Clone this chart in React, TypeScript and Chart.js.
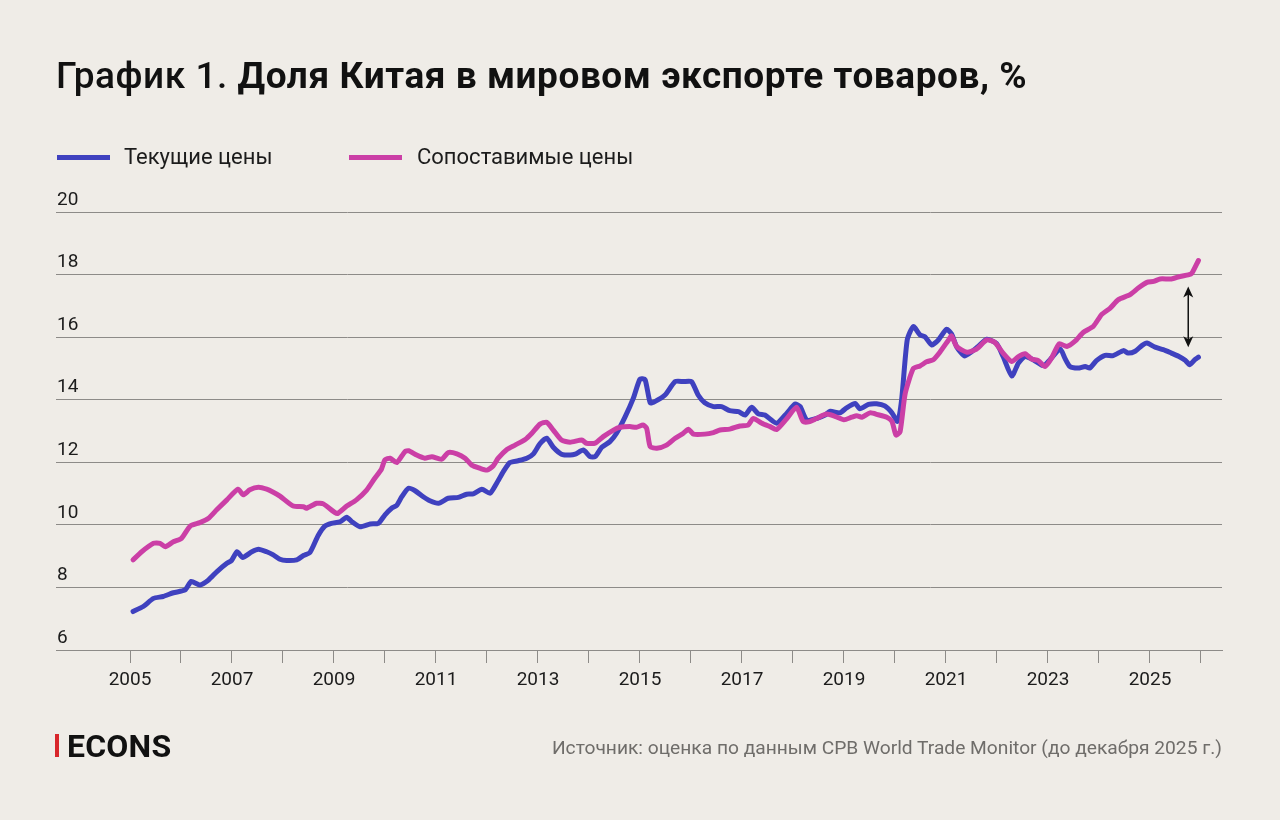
import React, { useEffect, useRef } from "react";
import { Chart, registerables } from "chart.js";

Chart.register(...registerables);

// ---- Data ----
const yearTicks = [2005, 2006, 2007, 2008, 2009, 2010, 2011, 2012, 2013, 2014, 2015, 2016, 2017, 2018, 2019, 2020, 2021, 2022, 2023, 2024, 2025, 2026];
const valueTicks = [6, 8, 10, 12, 14, 16, 18, 20];

const currentDates = [
  2005.06, 2005.26, 2005.46, 2005.65, 2005.85, 2006.08, 2006.2, 2006.37, 2006.54, 2006.7, 2006.9, 2006.99,
  2007.1, 2007.21, 2007.39, 2007.52, 2007.68, 2007.8, 2007.94, 2008.07, 2008.27, 2008.4, 2008.53, 2008.69,
  2008.82, 2008.95, 2009.12, 2009.25, 2009.35, 2009.51, 2009.71, 2009.87, 2010.0, 2010.13, 2010.23, 2010.33,
  2010.46, 2010.59, 2010.75, 2010.88, 2011.05, 2011.24, 2011.44, 2011.6, 2011.73, 2011.9, 2012.06, 2012.19,
  2012.32, 2012.45, 2012.61, 2012.78, 2012.91, 2013.04, 2013.17, 2013.3, 2013.46, 2013.63, 2013.73, 2013.89,
  2014.02, 2014.12, 2014.25, 2014.41, 2014.54, 2014.71, 2014.87, 2015.0, 2015.1, 2015.2, 2015.29, 2015.49,
  2015.69, 2015.85, 2016.01, 2016.14, 2016.27, 2016.44, 2016.6, 2016.76, 2016.93, 2017.06, 2017.19, 2017.32,
  2017.45, 2017.68, 2017.88, 2018.04, 2018.14, 2018.27, 2018.46, 2018.63, 2018.73, 2018.92, 2019.05, 2019.22,
  2019.31, 2019.48, 2019.64, 2019.8, 2019.94, 2020.05, 2020.13, 2020.24, 2020.36, 2020.49, 2020.59, 2020.72,
  2020.85, 2021.01, 2021.11, 2021.21, 2021.37, 2021.63, 2021.8, 2021.99, 2022.12, 2022.29, 2022.42, 2022.55,
  2022.71, 2022.91, 2023.04, 2023.24, 2023.33, 2023.43, 2023.59, 2023.73, 2023.82, 2023.95, 2024.12, 2024.28,
  2024.48, 2024.57, 2024.71, 2024.84, 2024.94, 2025.1, 2025.26, 2025.42, 2025.56, 2025.69, 2025.78, 2025.88,
  2025.95,
];
const currentValues = [
  7.23, 7.39, 7.65, 7.71, 7.83, 7.92, 8.19, 8.08, 8.24, 8.5, 8.77, 8.86,
  9.14, 8.96, 9.14, 9.22, 9.14, 9.05, 8.9, 8.86, 8.88, 9.02, 9.12, 9.66,
  9.96, 10.05, 10.1, 10.24, 10.1, 9.94, 10.03, 10.05, 10.32, 10.53, 10.62, 10.9,
  11.17, 11.09, 10.9, 10.77, 10.69, 10.85, 10.88, 10.98, 10.99, 11.14, 11.01, 11.33,
  11.7, 11.99, 12.05, 12.13, 12.27, 12.6, 12.77, 12.48, 12.26, 12.23, 12.26, 12.39,
  12.18, 12.18, 12.48, 12.66, 12.93, 13.46, 14.05, 14.66, 14.64, 13.9, 13.94, 14.15,
  14.58, 14.58, 14.58, 14.15, 13.9, 13.78, 13.78, 13.65, 13.62, 13.51, 13.76, 13.55,
  13.51, 13.25, 13.57, 13.86, 13.78, 13.35, 13.4, 13.51, 13.63, 13.58, 13.74, 13.88,
  13.71, 13.85, 13.87, 13.8, 13.58, 13.31, 14.0, 15.91, 16.34, 16.07, 16.01, 15.75,
  15.91, 16.25, 16.1, 15.69, 15.4, 15.7, 15.93, 15.8, 15.38, 14.76, 15.17, 15.38,
  15.28, 15.09, 15.28, 15.62, 15.33, 15.06, 15.01, 15.06, 15.01, 15.25, 15.42, 15.41,
  15.57, 15.49, 15.55, 15.73, 15.81, 15.68, 15.6, 15.49, 15.39, 15.26, 15.12, 15.28,
  15.36,
];

const comparableDates = [
  2005.06, 2005.23, 2005.46, 2005.59, 2005.69, 2005.85, 2006.01, 2006.18, 2006.37, 2006.54, 2006.7, 2006.9,
  2007.12, 2007.22, 2007.35, 2007.52, 2007.68, 2007.8, 2007.94, 2008.2, 2008.4, 2008.46, 2008.66, 2008.79,
  2009.02, 2009.08, 2009.25, 2009.44, 2009.64, 2009.8, 2009.93, 2010.0, 2010.1, 2010.23, 2010.39, 2010.46,
  2010.62, 2010.78, 2010.92, 2011.11, 2011.24, 2011.41, 2011.57, 2011.7, 2011.86, 2012.0, 2012.12, 2012.22,
  2012.39, 2012.55, 2012.75, 2012.88, 2013.04, 2013.17, 2013.3, 2013.46, 2013.63, 2013.86, 2013.95, 2014.12,
  2014.28, 2014.48, 2014.61, 2014.8, 2014.93, 2015.06, 2015.13, 2015.2, 2015.33, 2015.52, 2015.69, 2015.85,
  2015.95, 2016.05, 2016.27, 2016.44, 2016.57, 2016.76, 2016.96, 2017.12, 2017.22, 2017.39, 2017.55, 2017.68,
  2017.88, 2018.07, 2018.2, 2018.33, 2018.46, 2018.66, 2018.82, 2019.0, 2019.15, 2019.25, 2019.35, 2019.51,
  2019.67, 2019.84, 2019.94, 2020.02, 2020.1, 2020.2, 2020.36, 2020.49, 2020.62, 2020.75, 2020.88, 2021.05,
  2021.11, 2021.21, 2021.41, 2021.6, 2021.8, 2021.96, 2022.12, 2022.29, 2022.42, 2022.55, 2022.68, 2022.81,
  2022.94, 2023.07, 2023.22, 2023.37, 2023.53, 2023.69, 2023.89, 2024.05, 2024.22, 2024.38, 2024.61, 2024.77,
  2024.94, 2025.07, 2025.2, 2025.42, 2025.59, 2025.75, 2025.82, 2025.95,
];
const comparableValues = [
  8.88, 9.14, 9.41, 9.41, 9.3, 9.46, 9.57, 9.96, 10.07, 10.21, 10.48, 10.8,
  11.14, 10.96, 11.12, 11.2, 11.14, 11.05, 10.92, 10.6, 10.58, 10.53, 10.69, 10.67,
  10.39, 10.37, 10.6, 10.8, 11.11, 11.49, 11.78, 12.08, 12.13, 11.99, 12.34, 12.37,
  12.23, 12.13, 12.18, 12.1, 12.31, 12.27, 12.13, 11.91, 11.81, 11.75, 11.88, 12.13,
  12.41, 12.55, 12.73, 12.93, 13.22, 13.28, 13.03, 12.71, 12.64, 12.71, 12.61, 12.61,
  12.82, 13.03, 13.12, 13.14, 13.12, 13.19, 13.09, 12.5, 12.45, 12.55, 12.77, 12.93,
  13.06, 12.9, 12.9, 12.95, 13.03, 13.06, 13.16, 13.19, 13.4, 13.25, 13.14, 13.05,
  13.4, 13.76, 13.3, 13.3, 13.4, 13.54, 13.47, 13.36, 13.44, 13.49, 13.44, 13.58,
  13.52, 13.44, 13.31, 12.87, 12.98, 14.2, 15.0, 15.08, 15.21, 15.28, 15.52, 15.91,
  16.04, 15.7, 15.52, 15.62, 15.91, 15.83, 15.49, 15.22, 15.38, 15.47, 15.3, 15.25,
  15.06, 15.33, 15.79, 15.7, 15.87, 16.15, 16.35, 16.72, 16.93, 17.2, 17.36, 17.57,
  17.75, 17.78, 17.86, 17.86, 17.94, 17.99, 18.04, 18.45,
];

// gap arrow (year, top value, bottom value)
const arrowYear = 2025.75;
const arrowTop = 17.62;
const arrowBottom = 15.68;

const seriesNames = ["Текущие цены", "Сопоставимые цены"];
const seriesColors = ["#3f41bf", "#cb3fa6"];

const BG = "#efece7";
const GRID = "#8d8b88";
const FONT = "Roboto, 'Noto Sans', sans-serif";

const arrowPlugin = {
  id: "gapArrow",
  afterDatasetsDraw(chart: any) {
    const { ctx, scales } = chart;
    const px = scales.x.getPixelForValue(arrowYear);
    const y1 = scales.y.getPixelForValue(arrowTop);
    const y2 = scales.y.getPixelForValue(arrowBottom);
    ctx.save();
    ctx.strokeStyle = "#111";
    ctx.fillStyle = "#111";
    ctx.lineWidth = 1.5;
    ctx.beginPath();
    ctx.moveTo(px, y1 + 6);
    ctx.lineTo(px, y2 - 6);
    ctx.stroke();
    ctx.beginPath();
    ctx.moveTo(px, y1);
    ctx.lineTo(px - 5, y1 + 11);
    ctx.lineTo(px, y1 + 8);
    ctx.lineTo(px + 5, y1 + 11);
    ctx.closePath();
    ctx.fill();
    ctx.beginPath();
    ctx.moveTo(px, y2);
    ctx.lineTo(px - 5, y2 - 11);
    ctx.lineTo(px, y2 - 8);
    ctx.lineTo(px + 5, y2 - 11);
    ctx.closePath();
    ctx.fill();
    ctx.restore();
  },
};

export default function App() {
  const canvasRef = useRef<HTMLCanvasElement | null>(null);

  useEffect(() => {
    if (!canvasRef.current) return;
    const chart = new Chart(canvasRef.current, {
      type: "line",
      data: {
        datasets: [
          {
            label: seriesNames[0],
            data: currentDates.map((d, i) => ({ x: d, y: currentValues[i] })),
            borderColor: seriesColors[0],
            order: 1,
          },
          {
            label: seriesNames[1],
            data: comparableDates.map((d, i) => ({ x: d, y: comparableValues[i] })),
            borderColor: seriesColors[1],
            order: 0,
          },
        ],
      },
      options: {
        animation: false,
        responsive: false,
        devicePixelRatio: 1,
        layout: { padding: { left: 56, right: 58, top: 212, bottom: 110 } },
        plugins: { legend: { display: false }, tooltip: { enabled: false } },
        elements: {
          point: { radius: 0 },
          line: { borderWidth: 5, tension: 0.2, borderCapStyle: "round", borderJoinStyle: "round" },
        },
        scales: {
          x: {
            type: "linear",
            min: 2003.549,
            max: 2026.412,
            afterBuildTicks: (s: any) => {
              s.ticks = yearTicks.map((v) => ({ value: v }));
            },
            afterFit: (s: any) => {
              s.height = 60;
            },
            grid: { drawOnChartArea: false, drawTicks: true, tickLength: 13, color: GRID, lineWidth: 1 },
            border: { display: true, color: GRID, width: 1 },
            ticks: {
              autoSkip: false,
              maxRotation: 0,
              padding: 6,
              color: "#1c1c1c",
              font: { family: FONT, size: 19 },
              callback: (v: any) => (Number(v) % 2 === 1 ? String(v) : ""),
            },
          },
          y: {
            min: 6,
            max: 20,
            afterBuildTicks: (s: any) => {
              s.ticks = valueTicks.map((v) => ({ value: v }));
            },
            afterFit: (s: any) => {
              s.width = 0;
            },
            grid: { color: GRID, lineWidth: 1, drawTicks: false },
            border: { display: false },
            ticks: {
              mirror: true,
              padding: 1,
              labelOffset: -12,
              color: "#1c1c1c",
              font: { family: FONT, size: 19 },
            },
          },
        },
      },
      plugins: [arrowPlugin],
    } as any);
    return () => chart.destroy();
  }, []);

  return (
    <div style={{ position: "absolute", left: 0, top: 0, width: 1280, height: 820, background: BG, overflow: "hidden", fontFamily: FONT }}>
      <canvas ref={canvasRef} width={1280} height={820} style={{ position: "absolute", left: 0, top: 0, width: 1280, height: 820 }} />
      <div style={{ position: "absolute", left: 56, top: 57, fontSize: 37, lineHeight: "37px", color: "#111", whiteSpace: "nowrap", letterSpacing: 0.55 }}>
        <span style={{ fontWeight: 500 }}>График 1. </span>
        <span style={{ fontWeight: 700 }}>Доля Китая в мировом экспорте товаров, %</span>
      </div>
      <div style={{ position: "absolute", left: 57, top: 155, width: 53, height: 5, background: seriesColors[0] }} />
      <div style={{ position: "absolute", left: 124, top: 146, fontSize: 22, lineHeight: "22px", color: "#1c1c1c", whiteSpace: "nowrap" }}>{seriesNames[0]}</div>
      <div style={{ position: "absolute", left: 349, top: 155, width: 53, height: 5, background: seriesColors[1] }} />
      <div style={{ position: "absolute", left: 417, top: 146, fontSize: 22, lineHeight: "22px", color: "#1c1c1c", whiteSpace: "nowrap" }}>{seriesNames[1]}</div>
      <div style={{ position: "absolute", left: 55, top: 734, width: 4, height: 23, background: "#d8262b" }} />
      <div style={{ position: "absolute", left: 67, top: 730, fontSize: 32, lineHeight: "32px", fontWeight: 700, color: "#111", letterSpacing: 0.2, whiteSpace: "nowrap" }}>ECONS</div>
      <div style={{ position: "absolute", right: 58, top: 738, fontSize: 19.2, lineHeight: "19px", color: "#6f6d6a", whiteSpace: "nowrap" }}>
        Источник: оценка по данным CPB World Trade Monitor (до декабря 2025 г.)
      </div>
    </div>
  );
}
